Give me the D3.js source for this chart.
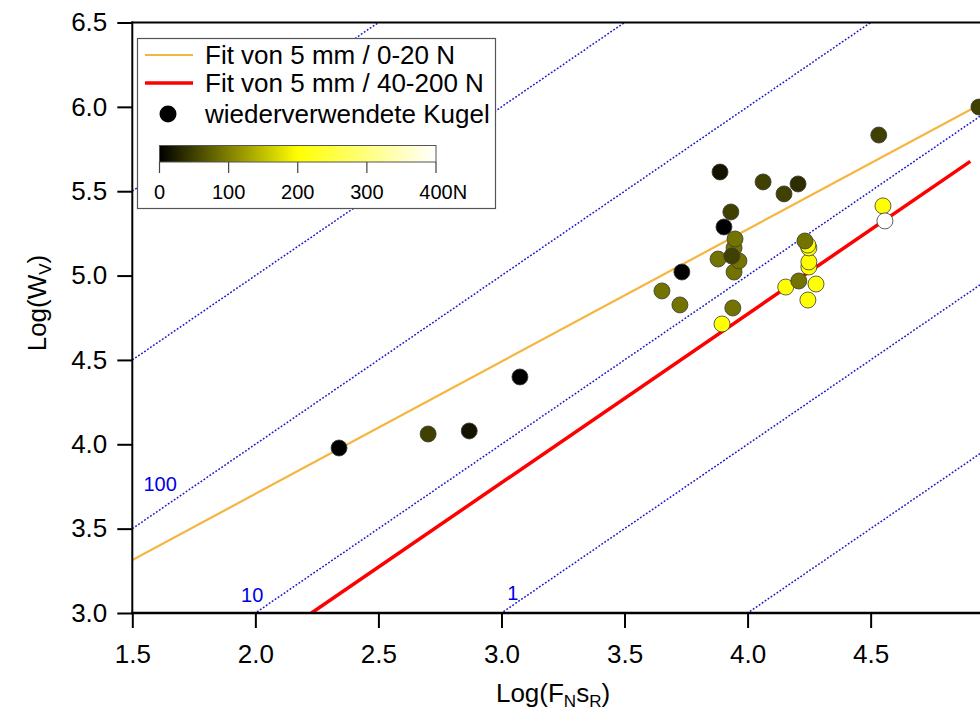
<!DOCTYPE html>
<html><head><meta charset="utf-8">
<script src="https://cdn.jsdelivr.net/npm/d3@7"></script>
<style>body{margin:0;background:#fff}svg{display:block;font-family:"Liberation Sans",Arial,sans-serif}</style>
</head><body><svg id="c" width="980" height="715"></svg>
<script>
// ---- data ----
const xTicks = [1.5, 2.0, 2.5, 3.0, 3.5, 4.0, 4.5];
const yTicks = [3.0, 3.5, 4.0, 4.5, 5.0, 5.5, 6.0, 6.5];
const pointX = [2.340, 2.702, 2.869, 3.075, 3.652, 3.725, 3.733, 3.896, 3.880, 3.940, 3.945, 3.965, 3.945, 3.949, 3.932, 3.904, 3.888,
                4.155, 4.278, 4.245, 4.249, 4.249, 4.249, 4.245, 4.208, 4.233, 3.936, 4.063, 4.148, 4.205, 4.550, 4.558, 4.533, 4.940];
const pointY = [3.978, 4.061, 4.079, 4.399, 4.909, 4.826, 5.021, 4.713, 5.098, 4.808, 5.021, 5.087, 5.164, 5.217, 5.377, 5.288, 5.614,
                4.932, 4.950, 4.855, 5.051, 5.081, 5.164, 5.181, 4.968, 5.205, 5.116, 5.555, 5.484, 5.543, 5.413, 5.324, 5.833, 5.999];
const pointForce = [0, 50, 15, 0, 90, 90, 0, 200, 90, 90, 90, 90, 90, 90, 50, 0, 15,
                    200, 200, 200, 200, 200, 200, 200, 90, 90, 50, 50, 50, 35, 200, 400, 50, 50];
const fitNames = ["Fit von 5 mm / 0-20 N", "Fit von 5 mm / 40-200 N"];
const fitIntercept = [2.138, 0.772];
const fitSlope = [0.784, 1.0];
const fitStart = [1.5, 2.228];
const fitEnd = [4.95, 4.905];
const fitColor = ["#f5b53f", "#ff0000"];
const fitWidth = [2.2, 3.5];
const isoOffsets = [-1, 0, 1, 2, 3, 4];           // log(W_V) = log(F_N s_R) + offset
const isoLabels = ["1", "10", "100"];
const isoLabelX = [3.046, 1.987, 1.613];
const isoLabelY = [3.077, 3.065, 3.723];
const cbarTicks = [0, 100, 200, 300, 400];
const cbarStops = [0, 200, 400];
const cbarColors = ["#000000", "#ffff00", "#ffffff"];
const legendPointLabel = "wiederverwendete Kugel";

// ---- scales ----
const svg = d3.select("#c");
const L = 132.3, R = 993.7, T = 22.5, B = 613;
const x = d3.scaleLinear().domain([1.5, 5.0]).range([L, R]);
const y = d3.scaleLinear().domain([3.0, 6.5]).range([B, T]);
const col = d3.scaleLinear().domain(cbarStops).range(cbarColors);

svg.append("defs").append("clipPath").attr("id", "plot")
  .append("rect").attr("x", L).attr("y", T).attr("width", R - L).attr("height", B - T);

const plot = svg.append("g").attr("clip-path", "url(#plot)");

// iso lines
plot.selectAll("line.iso").data(isoOffsets).join("line")
  .attr("x1", x(1.5)).attr("y1", d => y(1.5 + d))
  .attr("x2", x(5.0)).attr("y2", d => y(5.0 + d))
  .attr("stroke", "#1818c8").attr("stroke-width", 1.5).attr("stroke-dasharray", "1.8,1.8");

plot.selectAll("text.iso").data(isoLabels).join("text")
  .attr("x", (d, i) => x(isoLabelX[i])).attr("y", (d, i) => y(isoLabelY[i]))
  .attr("text-anchor", "middle").attr("font-size", 20).attr("fill", "#0000e6").text(d => d);

// fit lines
plot.selectAll("line.fit").data(fitNames).join("line")
  .attr("x1", (d, i) => x(fitStart[i])).attr("y1", (d, i) => y(fitIntercept[i] + fitSlope[i] * fitStart[i]))
  .attr("x2", (d, i) => x(fitEnd[i])).attr("y2", (d, i) => y(fitIntercept[i] + fitSlope[i] * fitEnd[i]))
  .attr("stroke", (d, i) => fitColor[i]).attr("stroke-width", (d, i) => fitWidth[i]);

// points
plot.selectAll("circle.pt").data(pointX).join("circle")
  .attr("cx", d => x(d)).attr("cy", (d, i) => y(pointY[i])).attr("r", 8)
  .attr("fill", (d, i) => col(pointForce[i])).attr("stroke", "#3a3a3a").attr("stroke-width", 0.8);

// axes
const xAxis = svg.append("g").attr("transform", `translate(0,${B})`)
  .call(d3.axisBottom(x).tickValues(xTicks).tickFormat(d3.format(".1f")).tickSize(15).tickPadding(16));
const yAxis = svg.append("g").attr("transform", `translate(${L},0)`)
  .call(d3.axisLeft(y).tickValues(yTicks).tickFormat(d3.format(".1f")).tickSize(15).tickPadding(10));
[xAxis, yAxis].forEach(g => {
  g.select(".domain").remove();
  g.selectAll(".tick line").attr("stroke", "#000").attr("stroke-width", 2);
  g.selectAll(".tick text").attr("font-size", 26).attr("fill", "#000")
    .attr("font-family", "'Liberation Sans',Arial,sans-serif");
});
xAxis.selectAll(".tick text").attr("dy", "0.72em");
svg.append("line").attr("x1", L).attr("x2", L).attr("y1", T - 1).attr("y2", B + 1).attr("stroke", "#000").attr("stroke-width", 2);
svg.append("line").attr("x1", L - 1).attr("x2", 980).attr("y1", B).attr("y2", B).attr("stroke", "#000").attr("stroke-width", 2.5);
svg.append("line").attr("x1", L - 1).attr("x2", 980).attr("y1", T).attr("y2", T).attr("stroke", "#000").attr("stroke-width", 2);

// axis titles
const xt = svg.append("text").attr("x", 553).attr("y", 702).attr("text-anchor", "middle").attr("font-size", 26);
xt.append("tspan").text("Log(F");
xt.append("tspan").attr("font-size", 17).attr("dy", 5).text("N");
xt.append("tspan").attr("dy", -5).text("s");
xt.append("tspan").attr("font-size", 17).attr("dy", 5).text("R");
xt.append("tspan").attr("dy", -5).text(")");
const yt = svg.append("text").attr("transform", "translate(46,303) rotate(-90)").attr("text-anchor", "middle").attr("font-size", 26);
yt.append("tspan").text("Log(W");
yt.append("tspan").attr("font-size", 17).attr("dy", 5).text("V");
yt.append("tspan").attr("dy", -5).text(")");

// legend
const lg = svg.append("g");
lg.append("rect").attr("x", 137.5).attr("y", 38.5).attr("width", 358).attr("height", 170)
  .attr("fill", "#fff").attr("stroke", "#555").attr("stroke-width", 1.2);
const rowY = [55, 83, 114];
lg.selectAll("line.lgf").data(fitNames).join("line")
  .attr("x1", 145).attr("x2", 193).attr("y1", (d, i) => rowY[i]).attr("y2", (d, i) => rowY[i])
  .attr("stroke", (d, i) => fitColor[i]).attr("stroke-width", (d, i) => fitWidth[i]);
lg.append("circle").attr("cx", 168).attr("cy", rowY[2]).attr("r", 8.5).attr("fill", "#000");
lg.selectAll("text.lgt").data(fitNames.concat([legendPointLabel])).join("text")
  .attr("x", 205).attr("y", (d, i) => rowY[i] + 9).attr("font-size", 26).text(d => d);

// colorbar
const cb = d3.scaleLinear().domain([0, 400]).range([159.5, 436]);
const grad = svg.select("defs").append("linearGradient").attr("id", "cbg");
grad.selectAll("stop").data(cbarStops).join("stop")
  .attr("offset", d => d / 400).attr("stop-color", (d, i) => cbarColors[i]);
lg.append("rect").attr("x", cb(0)).attr("y", 145.5).attr("width", cb(400) - cb(0)).attr("height", 16.5)
  .attr("fill", "url(#cbg)").attr("stroke", "#555").attr("stroke-width", 1);
lg.selectAll("line.cbt").data(cbarTicks).join("line")
  .attr("x1", d => cb(d)).attr("x2", d => cb(d)).attr("y1", 162).attr("y2", 173)
  .attr("stroke", "#444").attr("stroke-width", 1.2);
lg.selectAll("text.cbl").data(cbarTicks).join("text")
  .attr("x", d => cb(d)).attr("y", 199).attr("font-size", 20)
  .attr("text-anchor", (d, i) => i === cbarTicks.length - 1 ? "start" : "middle")
  .attr("dx", (d, i) => i === cbarTicks.length - 1 ? -16.7 : 0)
  .text((d, i) => i === cbarTicks.length - 1 ? d + "N" : d);
</script></body></html>
